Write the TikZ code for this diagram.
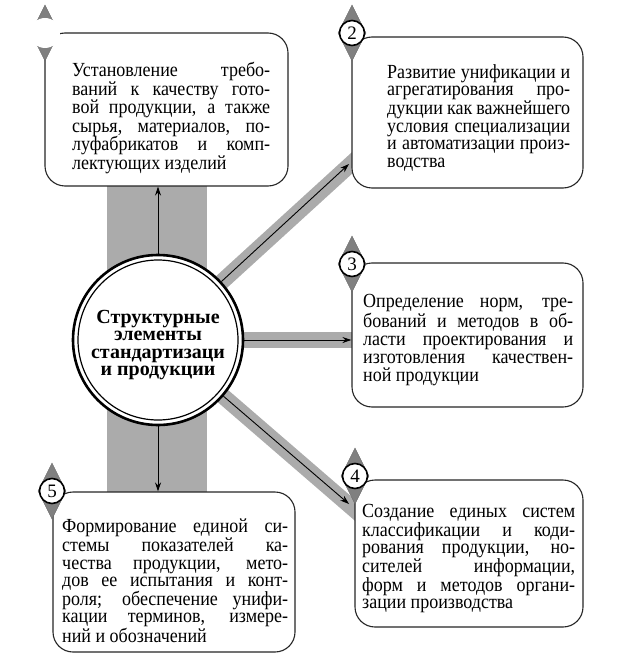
\documentclass[tikz,border=0pt]{standalone}
\usepackage{fontspec}
\setmainfont{Liberation Serif}
\newfontfamily\boxfont[FakeStretch=0.9]{Liberation Serif}
\newcommand\jl[2]{\makebox[#1][s]{#2}}
\usetikzlibrary{arrows.meta,calc}
\begin{document}
\begin{tikzpicture}[x=1pt,y=-1pt,
  boxst/.style={draw=black!85, line width=1.1pt, fill=white, rounded corners=20pt, inner sep=0pt},
  txt/.style={anchor=north west, inner sep=0pt, align=left},
  bandc/.style={black!33},
  arr/.style={-{Stealth[length=9pt,width=6pt]}, line width=0.9pt},
  numc/.style={circle, draw=black, line width=1.6pt, fill=white, minimum size=25pt, inner sep=0pt, font=\fontsize{19}{19}\selectfont},
  diam/.style={fill=black!50, draw=black!60, line width=0.4pt},
]
\useasboundingbox (0,0) rectangle (623,668);
% bands
\fill[bandc] (107,186) rectangle (207,492);
\fill[bandc] (200,332) rectangle (360,348);
\coordinate (cc) at (158,340);
\draw[bandc, line width=16pt] (cc) -- (364,152);
\draw[bandc, line width=16pt] (cc) -- (364,518);
% boxes
\node[boxst, minimum width=243pt, minimum height=153pt] (b1) at (166.5,109.5) {};
\node[boxst, minimum width=231pt, minimum height=151pt] (b2) at (467.5,112.5) {};
\node[boxst, minimum width=231pt, minimum height=144pt] (b3) at (467.5,335) {};
\node[boxst, minimum width=228pt, minimum height=147pt] (b4) at (469,553.5) {};
\node[boxst, minimum width=242pt, minimum height=160pt] (b5) at (174,572) {};
% texts
\node[txt, font=\boxfont\fontsize{20}{18.6}\selectfont] (t1) at (72,62) {\jl{198pt}{Установление требо-}\\\jl{198pt}{ваний к качеству гото-}\\\jl{198pt}{вой продукции, а также}\\\jl{198pt}{сырья, материалов, по-}\\\jl{198pt}{луфабрикатов и комп-}\\лектующих изделий};
\node[txt, font=\boxfont\fontsize{20}{17.6}\selectfont] (t2) at (387,64) {\jl{183pt}{Развитие унификации и}\\\jl{183pt}{агрегатирования про-}\\\jl{183pt}{дукции как важнейшего}\\\jl{183pt}{условия специализации}\\\jl{183pt}{и автоматизации произ-}\\водства};
\node[txt, font=\boxfont\fontsize{20}{18}\selectfont] (t3) at (363,294) {\jl{210pt}{Определение норм, тре-}\\\jl{210pt}{бований и методов в об-}\\\jl{210pt}{ласти проектирования и}\\\jl{210pt}{изготовления качествен-}\\ной продукции};
\node[txt, font=\boxfont\fontsize{20}{17.1}\selectfont] (t4) at (362,504) {\jl{213pt}{Создание единых систем}\\\jl{213pt}{классификации и коди-}\\\jl{213pt}{рования продукции, но-}\\\jl{213pt}{сителей информации,}\\\jl{213pt}{форм и методов органи-}\\зации производства};
\node[txt, font=\boxfont\fontsize{20}{17.3}\selectfont] (t5) at (62,519) {\jl{226pt}{Формирование единой си-}\\\jl{226pt}{стемы показателей ка-}\\\jl{226pt}{чества продукции, мето-}\\\jl{226pt}{дов ее испытания и конт-}\\\jl{226pt}{роля; обеспечение унифи-}\\\jl{226pt}{кации терминов, измере-}\\ний и обозначений};
% centre
\node[circle, draw=black, line width=2.6pt, fill=white, minimum size=170pt, inner sep=0pt] (cen) at (cc) {};
\draw[line width=1.2pt] (cen.center) circle[radius=80pt];
\node[align=center, inner sep=0pt, font=\bfseries\fontsize{20}{17.5}\selectfont] (title) at (158,345) {Структурные\\элементы\\стандартизаци\\и продукции};
% arrows
\coordinate (tip2) at (349,164);
\coordinate (tip4) at (349,504);
\draw[arr] (cen) -- (tip2);
\draw[arr] (cen) -- (tip4);
\draw[arr] (cen.north) -- (cen |- b1.south);
\draw[arr] (cen.south) -- (cen |- b5.north);
\draw[arr] (cen.east) -- (cen -| b3.west);
% number markers
\foreach \n/\px/\py in {1/45/33, 2/352/33, 3/352/264, 4/355/476, 5/52/491}{
  \coordinate (d\n) at (\px,\py);
  \fill[diam] ($(d\n)+(0,-28)$) -- ($(d\n)+(14,0)$) -- ($(d\n)+(0,28)$) -- ($(d\n)+(-14,0)$) -- cycle;
}
\fill[white] (d1) circle[radius=15pt];
\node[numc] (n2) at (d2) {2};
\node[numc] (n3) at (d3) {3};
\node[numc] (n4) at (d4) {4};
\node[numc] (n5) at (d5) {5};
\end{tikzpicture}
\end{document}
